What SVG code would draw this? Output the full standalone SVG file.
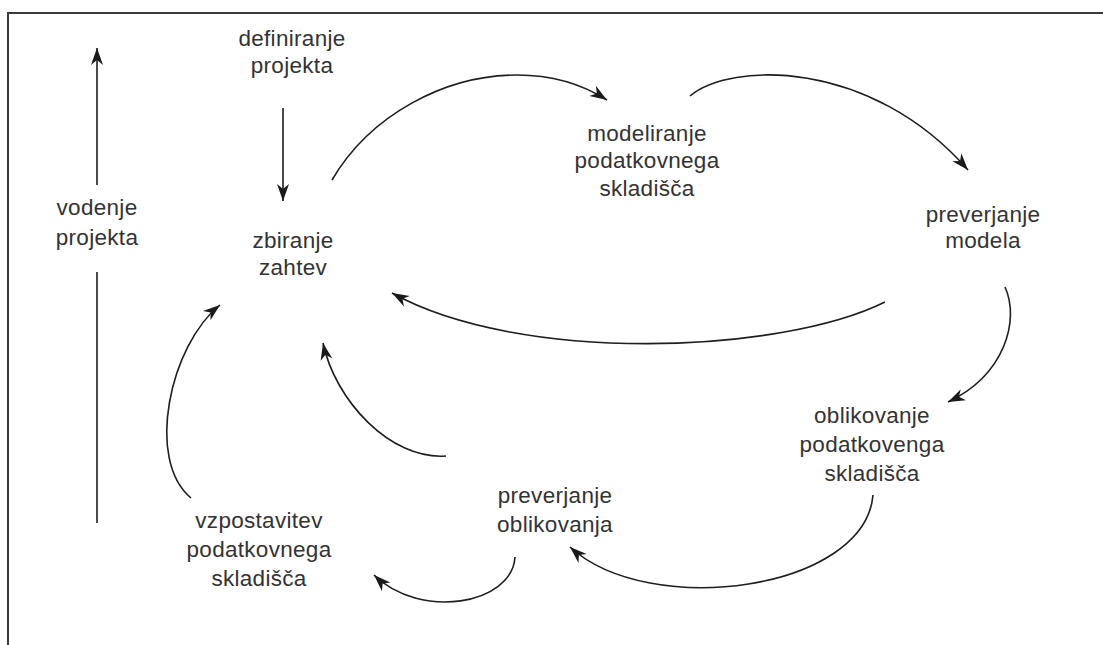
<svg xmlns="http://www.w3.org/2000/svg" width="1103" height="645" viewBox="0 0 1103 645">
  <style>
    .lbl { font-family: "Liberation Sans", Arial, sans-serif; font-size: 22.5px; fill: #333333; text-anchor: middle; letter-spacing: 0.3px; }
    .con { fill: none; stroke: #1e1e1e; stroke-width: 1.6; }
    .frame { fill: none; stroke: #3a3a3a; stroke-width: 2; }
  </style>
  <defs>
    <marker id="head" viewBox="-18 -8 19 16" refX="0" refY="0" markerWidth="19" markerHeight="16" markerUnits="userSpaceOnUse" orient="auto">
      <path d="M0,0 L-17,-6 L-12,0 L-17,6 Z" fill="#1a1a1a"/>
    </marker>
  </defs>

  <rect width="1103" height="645" fill="#ffffff"/>
  <!-- outer frame, open to the right and bottom edges -->
  <rect class="frame" x="8" y="13" width="1200" height="700"/>

  <!-- connectors -->
  <g id="connectors">
    <path class="con" d="M97,185 L97,48" marker-end="url(#head)"/>
    <path class="con" d="M97,272 L97,523"/>
    <path class="con" d="M283,108 L283,201" marker-end="url(#head)"/>
    <path class="con" d="M332,180 C370,115 445,75 517,75 C555,75 585,86 607,100" marker-end="url(#head)"/>
    <path class="con" d="M690,96 C730,62 870,58 968,170" marker-end="url(#head)"/>
    <path class="con" d="M885,302 C780,354 520,364 392,293" marker-end="url(#head)"/>
    <path class="con" d="M1005,287 C1020,320 1005,375 948,402" marker-end="url(#head)"/>
    <path class="con" d="M873,495 C865,590 650,620 570,547" marker-end="url(#head)"/>
    <path class="con" d="M515,557 C512,605 420,620 374,575" marker-end="url(#head)"/>
    <path class="con" d="M191,498 C145,460 170,345 220,305" marker-end="url(#head)"/>
    <path class="con" d="M446,456 C390,460 335,400 323,343" marker-end="url(#head)"/>
  </g>

  <!-- nodes -->
  <g id="vodenje">
    <text class="lbl" x="97" y="215">vodenje</text>
    <text class="lbl" x="97" y="245">projekta</text>
  </g>
  <g id="definiranje">
    <text class="lbl" x="292" y="46">definiranje</text>
    <text class="lbl" x="292" y="73">projekta</text>
  </g>
  <g id="zbiranje">
    <text class="lbl" x="293" y="248">zbiranje</text>
    <text class="lbl" x="293" y="275">zahtev</text>
  </g>
  <g id="modeliranje">
    <text class="lbl" x="647" y="141">modeliranje</text>
    <text class="lbl" x="647" y="168">podatkovnega</text>
    <text class="lbl" x="647" y="196">skladišča</text>
  </g>
  <g id="preverjanje-modela">
    <text class="lbl" x="983" y="222">preverjanje</text>
    <text class="lbl" x="983" y="248">modela</text>
  </g>
  <g id="oblikovanje">
    <text class="lbl" x="872" y="423">oblikovanje</text>
    <text class="lbl" x="872" y="452">podatkovenga</text>
    <text class="lbl" x="872" y="481">skladišča</text>
  </g>
  <g id="preverjanje-oblikovanja">
    <text class="lbl" x="555" y="503">preverjanje</text>
    <text class="lbl" x="555" y="532">oblikovanja</text>
  </g>
  <g id="vzpostavitev">
    <text class="lbl" x="259" y="528">vzpostavitev</text>
    <text class="lbl" x="259" y="557">podatkovnega</text>
    <text class="lbl" x="259" y="586">skladišča</text>
  </g>
</svg>
